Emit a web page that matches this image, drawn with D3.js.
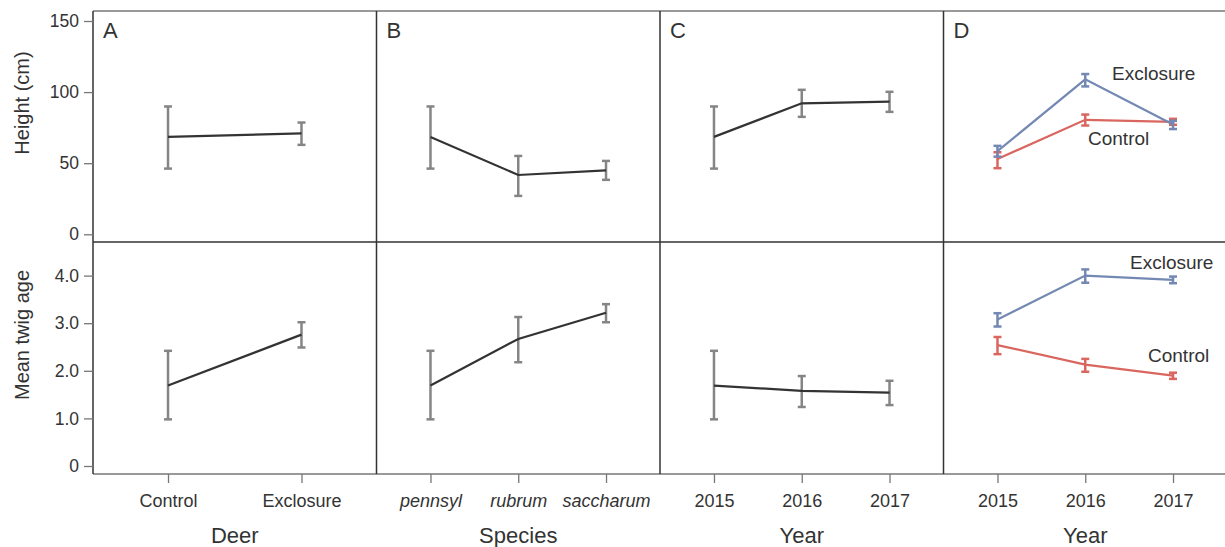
<!DOCTYPE html>
<html>
<head>
<meta charset="utf-8">
<script src="https://cdn.jsdelivr.net/npm/d3@7"></script>
<style>
  body { margin: 0; background: #fff; }
  svg { display: block; font-family: "Liberation Sans", Arial, Helvetica, sans-serif; }
</style>
</head>
<body>
<svg id="chart" width="1225" height="547"></svg>
<script>
// categories
const deer = ["Control", "Exclosure"];
const species = ["pennsyl", "rubrum", "saccharum"];
const years = ["2015", "2016", "2017"];
const panelLetters = ["A", "B", "C", "D"];
const xTitles = ["Deer", "Species", "Year", "Year"];

// height (cm): mean, lower, upper
const heightDeer = [[68.5, 46.2, 89.9], [71.0, 62.9, 78.6]];
const heightSpecies = [[68.5, 46.2, 89.9], [41.7, 27.0, 55.1], [45.0, 38.3, 51.6]];
const heightYear = [[68.5, 46.2, 89.9], [92.1, 82.6, 101.6], [93.3, 86.1, 100.2]];
const heightExcl = [[58.5, 54.6, 62.2], [109.0, 104.0, 112.7], [77.2, 74.0, 79.8]];
const heightCtrl = [[53.0, 46.5, 57.7], [80.5, 76.5, 84.2], [79.0, 77.0, 81.2]];

// mean twig age: mean, lower, upper
const twigDeer = [[1.69, 0.98, 2.42], [2.76, 2.49, 3.02]];
const twigSpecies = [[1.69, 0.98, 2.42], [2.67, 2.18, 3.13], [3.22, 3.02, 3.40]];
const twigYear = [[1.69, 0.98, 2.42], [1.58, 1.24, 1.89], [1.54, 1.28, 1.79]];
const twigExcl = [[3.08, 2.93, 3.21], [4.00, 3.85, 4.13], [3.91, 3.84, 3.98]];
const twigCtrl = [[2.54, 2.35, 2.71], [2.13, 1.98, 2.25], [1.90, 1.83, 1.96]];

const heightTicks = [0, 50, 100, 150];
const twigTicks = [0, 1, 2, 3, 4];

const svg = d3.select("#chart");
const left = 93, colW = 283.5;
const top1 = 11, mid = 242, bot = 474;
const dark = "#333", grey = "#858585";
const blue = "#7388b3", red = "#d9665f";

const yTop = d3.scaleLinear().domain([0, 150]).range([234.3, 21]);
const yBot = d3.scaleLinear().domain([0, 4]).range([466, 275.6]);

const cats = [deer, species, years, years];
const xs = cats.map((c, i) => d3.scalePoint()
  .domain(c)
  .range([left + i * colW, left + (i + 1) * colW])
  .padding(c.length === 2 ? 0.562 : 0.615));

const rows = [
  { y: yTop, single: [heightDeer, heightSpecies, heightYear], excl: heightExcl, ctrl: heightCtrl },
  { y: yBot, single: [twigDeer, twigSpecies, twigYear], excl: twigExcl, ctrl: twigCtrl }
];

function errBars(g, x, y, data, cat, color, capW) {
  const eb = g.append("g").attr("stroke", color).attr("stroke-width", 2.5).attr("fill", "none");
  data.forEach((d, i) => {
    const cx = x(cat[i]);
    eb.append("line").attr("x1", cx).attr("x2", cx).attr("y1", y(d[1])).attr("y2", y(d[2]));
    eb.append("line").attr("x1", cx - capW).attr("x2", cx + capW).attr("y1", y(d[1])).attr("y2", y(d[1]));
    eb.append("line").attr("x1", cx - capW).attr("x2", cx + capW).attr("y1", y(d[2])).attr("y2", y(d[2]));
  });
}

function meanLine(g, x, y, data, cat, color) {
  const line = d3.line().x((d, i) => x(cat[i])).y(d => y(d[0]));
  g.append("path").datum(data).attr("d", line)
    .attr("fill", "none").attr("stroke", color).attr("stroke-width", 2.2);
}

// marks
rows.forEach(r => {
  r.single.forEach((data, i) => {
    const g = svg.append("g");
    errBars(g, xs[i], r.y, data, cats[i], grey, 4);
    meanLine(g, xs[i], r.y, data, cats[i], dark);
  });
  const g = svg.append("g");
  errBars(g, xs[3], r.y, r.ctrl, years, red, 4);
  meanLine(g, xs[3], r.y, r.ctrl, years, red);
  errBars(g, xs[3], r.y, r.excl, years, blue, 4);
  meanLine(g, xs[3], r.y, r.excl, years, blue);
});

// frame
svg.append("line").attr("x1", left).attr("x2", 1225).attr("y1", top1).attr("y2", top1)
  .attr("stroke", "#777").attr("stroke-width", 1.3);
svg.append("line").attr("x1", left).attr("x2", 1225).attr("y1", mid).attr("y2", mid)
  .attr("stroke", dark).attr("stroke-width", 1.5);
svg.append("line").attr("x1", left).attr("x2", 1225).attr("y1", bot).attr("y2", bot)
  .attr("stroke", "#777").attr("stroke-width", 1.3);
for (let i = 0; i < 4; i++) {
  svg.append("line").attr("x1", left + i * colW).attr("x2", left + i * colW)
    .attr("y1", top1).attr("y2", bot)
    .attr("stroke", dark).attr("stroke-width", 1.5);
}

// y axes
const yAxisTop = svg.append("g").attr("transform", `translate(${left},0)`)
  .call(d3.axisLeft(yTop).tickValues(heightTicks).tickSize(9).tickPadding(5).tickFormat(d3.format("d")));
const yAxisBot = svg.append("g").attr("transform", `translate(${left},0)`)
  .call(d3.axisLeft(yBot).tickValues(twigTicks).tickSize(9).tickPadding(5)
    .tickFormat(d => d === 0 ? "0" : d3.format(".1f")(d)));
[yAxisTop, yAxisBot].forEach(a => {
  a.select(".domain").remove();
  a.selectAll(".tick line").attr("stroke", "#777").attr("stroke-width", 1.3);
  a.selectAll(".tick text").attr("fill", dark).attr("font-size", 17.5).attr("font-family", null);
});

// x axes
xs.forEach((x, i) => {
  const a = svg.append("g").attr("transform", `translate(0,${bot})`)
    .call(d3.axisBottom(x).tickSize(9).tickPadding(11));
  a.select(".domain").remove();
  a.selectAll(".tick line").attr("stroke", "#777").attr("stroke-width", 1.3);
  a.selectAll(".tick text").attr("fill", dark).attr("font-size", 18).attr("font-family", null)
    .attr("font-style", i === 1 ? "italic" : null);
  svg.append("text").attr("x", left + (i + 0.5) * colW).attr("y", 543)
    .attr("text-anchor", "middle").attr("font-size", 22).attr("fill", dark)
    .text(xTitles[i]);
});

// y titles
svg.append("text").attr("transform", "translate(29,103) rotate(-90)")
  .attr("text-anchor", "middle").attr("font-size", 20).attr("fill", dark).text("Height (cm)");
svg.append("text").attr("transform", "translate(29,335) rotate(-90)")
  .attr("text-anchor", "middle").attr("font-size", 20).attr("fill", dark).text("Mean twig age");

// panel letters
panelLetters.forEach((l, i) => {
  svg.append("text").attr("x", left + i * colW + 10).attr("y", 38)
    .attr("font-size", 22).attr("fill", dark).text(l);
});

// series labels in D
const seriesLabels = [
  { text: "Exclosure", x: 1112, y: 80 },
  { text: "Control", x: 1088, y: 145 },
  { text: "Exclosure", x: 1130, y: 269 },
  { text: "Control", x: 1148, y: 362 }
];
svg.selectAll(".slabel").data(seriesLabels).join("text")
  .attr("x", d => d.x).attr("y", d => d.y)
  .attr("font-size", 19).attr("fill", dark).text(d => d.text);
</script>
</body>
</html>
